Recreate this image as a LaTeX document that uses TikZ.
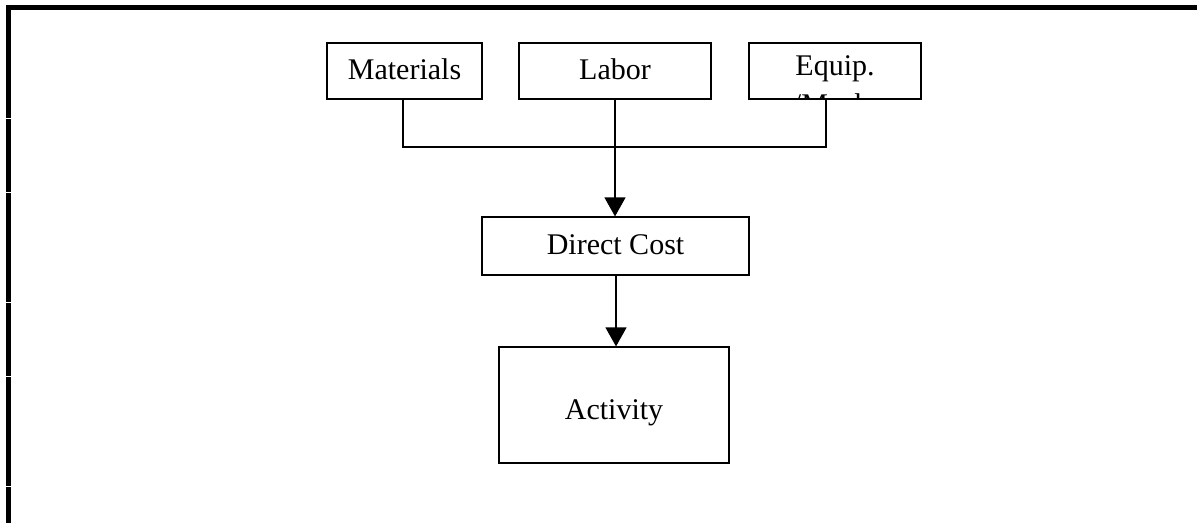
\documentclass[tikz,border=0pt]{standalone}
\usepackage{fontspec}
\setmainfont{Liberation Serif}
\usetikzlibrary{arrows.meta}
\newlength\px
\setlength\px{0.4pt}
\tikzset{
  costbox/.style={draw, line width=1.2\px, inner sep=0pt, text height=0.7em, text depth=0pt},
  feed/.style={line width=1.2\px},
  flow/.style={feed, -{Triangle[length=7.6pt,width=8.4pt]}},
}

\begin{document}
\begin{tikzpicture}[x=1\px, y=-1\px, font=\fontsize{12}{14}\selectfont]
        \useasboundingbox (0,0) rectangle (1197,523);
        % page frame with the row breaks
        \fill (6,5) rectangle (1197,10);
        \fill (6,5) rectangle (11,523);
        \foreach \y in {118,192,302,376,486}
            \draw[white, line width=1\px] (5,\y) -- (11,\y);

        % resources
        \node[costbox, minimum width=155\px, minimum height=56\px] (mat) at (404.5,71) {Materials};
        \node[costbox, minimum width=192\px, minimum height=56\px] (labor) at (615,71) {Labor};
        \node[costbox, minimum width=172\px, minimum height=56\px,
            path picture={
                \node[anchor=base] (equipa) at ([yshift=-4\px]path picture bounding box.center) {Equip.};
                \node[anchor=base] (equipb) at ([yshift=-43\px]path picture bounding box.center) {/Mach.};
            }] (equip) at (835,71) {};

        \node[costbox, minimum width=267\px, minimum height=58\px] (direct) at (615.5,246) {Direct Cost};
        \node[costbox, minimum width=230\px, minimum height=116\px, text height=1.15em] (activity) at (614,405) {Activity};

        \coordinate (bus) at (615,147);
        \draw[feed] ([xshift=-1.5\px]mat.south) |- (bus) -| ([xshift=-9\px]equip.south);
        \draw[flow] (labor.south) -- (labor.south |- direct.north);
        \draw[flow] ([xshift=0.5\px]direct.south) -- ([xshift=0.5\px]direct.south |- activity.north);
\end{tikzpicture}
\end{document}
